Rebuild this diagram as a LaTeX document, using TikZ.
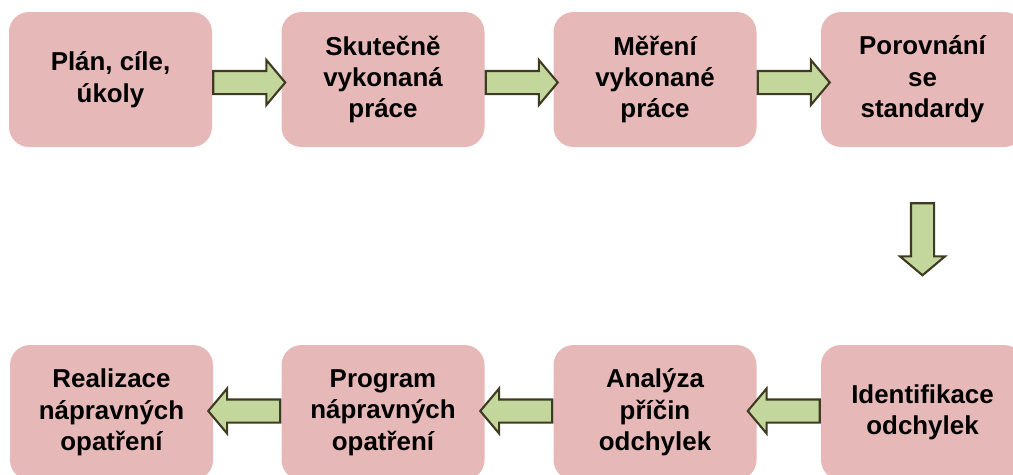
\documentclass[tikz,border=0pt]{standalone}
\usepackage{fontspec}
\setmainfont{Liberation Sans}
\usepackage{tikz}
\usetikzlibrary{shapes.arrows}
\definecolor{boxpink}{HTML}{E6B9B8}
\definecolor{arrgreen}{HTML}{C3D69B}
\definecolor{arrline}{HTML}{3F3A22}

\begin{document}
\begin{tikzpicture}[
  phase/.style={fill=boxpink,rounded corners=20bp,minimum width=203bp,minimum height=135bp,
    align=center,font=\fontsize{26}{31.5}\selectfont\bfseries},
  flowarrow/.style={single arrow,draw=arrline,fill=arrgreen,line width=2.1bp,inner sep=10.5bp,
    minimum height=72bp,single arrow head extend=11bp,single arrow tip angle=100}]

\useasboundingbox (0bp,0bp) rectangle (1013bp,-475bp);

\node (T1) at (110.5bp,-79.5bp)[phase] {Plán, cíle,\\úkoly};
\node (T2) at (383bp,-79.5bp)[phase] {Skutečně\\vykonaná\\práce};
\node (T3) at (655bp,-79.5bp)[phase] {Měření\\vykonané\\práce};
\node (T4) at (922.5bp,-79.5bp)[phase] {Porovnání\\se\\standardy};
\node (D1) at (111.5bp,-412.5bp)[phase] {Realizace\\nápravných\\opatření};
\node (D2) at (383bp,-412.5bp)[phase] {Program\\nápravných\\opatření};
\node (D3) at (655bp,-412.5bp)[phase] {Analýza\\příčin\\odchylek};
\node (D4) at (922.5bp,-412.5bp)[phase] {Identifikace\\odchylek};

% top row, left to right
\node (A1) at (T1.east)[flowarrow,anchor=tail,yshift=-3bp] {};
\node (A2) at (T2.east)[flowarrow,anchor=tail,yshift=-3bp] {};
\node (A3) at (T3.east)[flowarrow,anchor=tail,yshift=-3bp] {};
% down to the second row
\node (A4) at (T4.south)[flowarrow,shape border rotate=270,anchor=tail,yshift=-55bp] {};
% bottom row, right to left
\node (A5) at (D4.west)[flowarrow,shape border rotate=180,anchor=tail,yshift=1.5bp] {};
\node (A6) at (D3.west)[flowarrow,shape border rotate=180,anchor=tail,yshift=1.5bp] {};
\node (A7) at (D2.west)[flowarrow,shape border rotate=180,anchor=tail,yshift=1.5bp] {};
\end{tikzpicture}
\end{document}
